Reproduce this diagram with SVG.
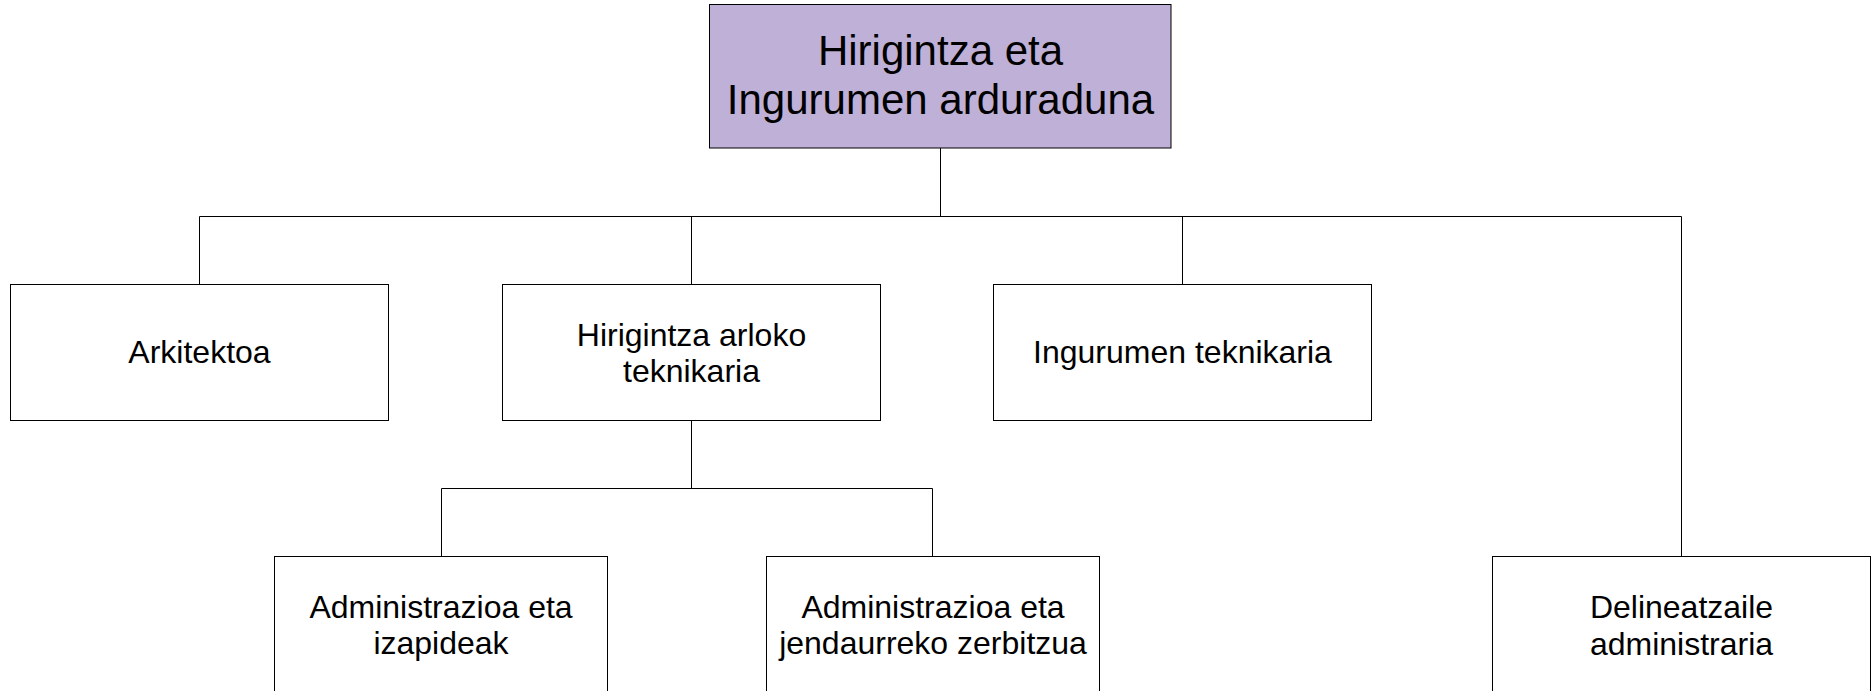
<svg xmlns="http://www.w3.org/2000/svg" width="1872" height="691" viewBox="0 0 1872 691">
<style>
.box{fill:#ffffff;stroke:#000000;stroke-width:1}
.top{fill:#BEB0D6;stroke:#000000;stroke-width:1}
.conn{fill:none;stroke:#000000;stroke-width:1}
text{font-family:"Liberation Sans",Arial,sans-serif;fill:#000000;text-anchor:middle}
.big{font-size:42px}
.t{font-size:32px}
</style>
<rect width="1872" height="691" fill="#ffffff"/>
<g id="connectors">
<path class="conn" d="M940.5,148 V216.5 M199.5,216.5 H1681.5 M199.5,216.5 V284.5 M691.5,216.5 V284.5 M1182.5,216.5 V284.5 M1681.5,216.5 V556.5"/>
<path class="conn" d="M691.5,420.5 V488.5 M441.5,488.5 H932.5 M441.5,488.5 V556.5 M932.5,488.5 V556.5"/>
</g>
<g id="n_arduraduna">
<rect class="top" x="709.5" y="4.5" width="461.5" height="143.5"/>
<text class="big" x="940.5" y="65">Hirigintza eta</text>
<text class="big" x="940.5" y="114">Ingurumen arduraduna</text>
</g>
<g id="n_arkitektoa">
<rect class="box" x="10.5" y="284.5" width="378" height="136"/>
<text class="t" x="199.5" y="363">Arkitektoa</text>
</g>
<g id="n_hirigintza_teknikaria">
<rect class="box" x="502.5" y="284.5" width="378" height="136"/>
<text class="t" x="691.5" y="346">Hirigintza arloko</text>
<text class="t" x="691.5" y="382">teknikaria</text>
</g>
<g id="n_ingurumen_teknikaria">
<rect class="box" x="993.5" y="284.5" width="378" height="136"/>
<text class="t" x="1182.5" y="363">Ingurumen teknikaria</text>
</g>
<g id="n_izapideak">
<rect class="box" x="274.5" y="556.5" width="333" height="136"/>
<text class="t" x="441" y="617.5">Administrazioa eta</text>
<text class="t" x="441" y="653.5">izapideak</text>
</g>
<g id="n_jendaurreko">
<rect class="box" x="766.5" y="556.5" width="333" height="136"/>
<text class="t" x="933" y="617.5">Administrazioa eta</text>
<text class="t" x="933" y="653.5">jendaurreko zerbitzua</text>
</g>
<g id="n_delineatzaile">
<rect class="box" x="1492.5" y="556.5" width="378" height="136"/>
<text class="t" x="1681.5" y="618">Delineatzaile</text>
<text class="t" x="1681.5" y="655">administraria</text>
</g>
</svg>
